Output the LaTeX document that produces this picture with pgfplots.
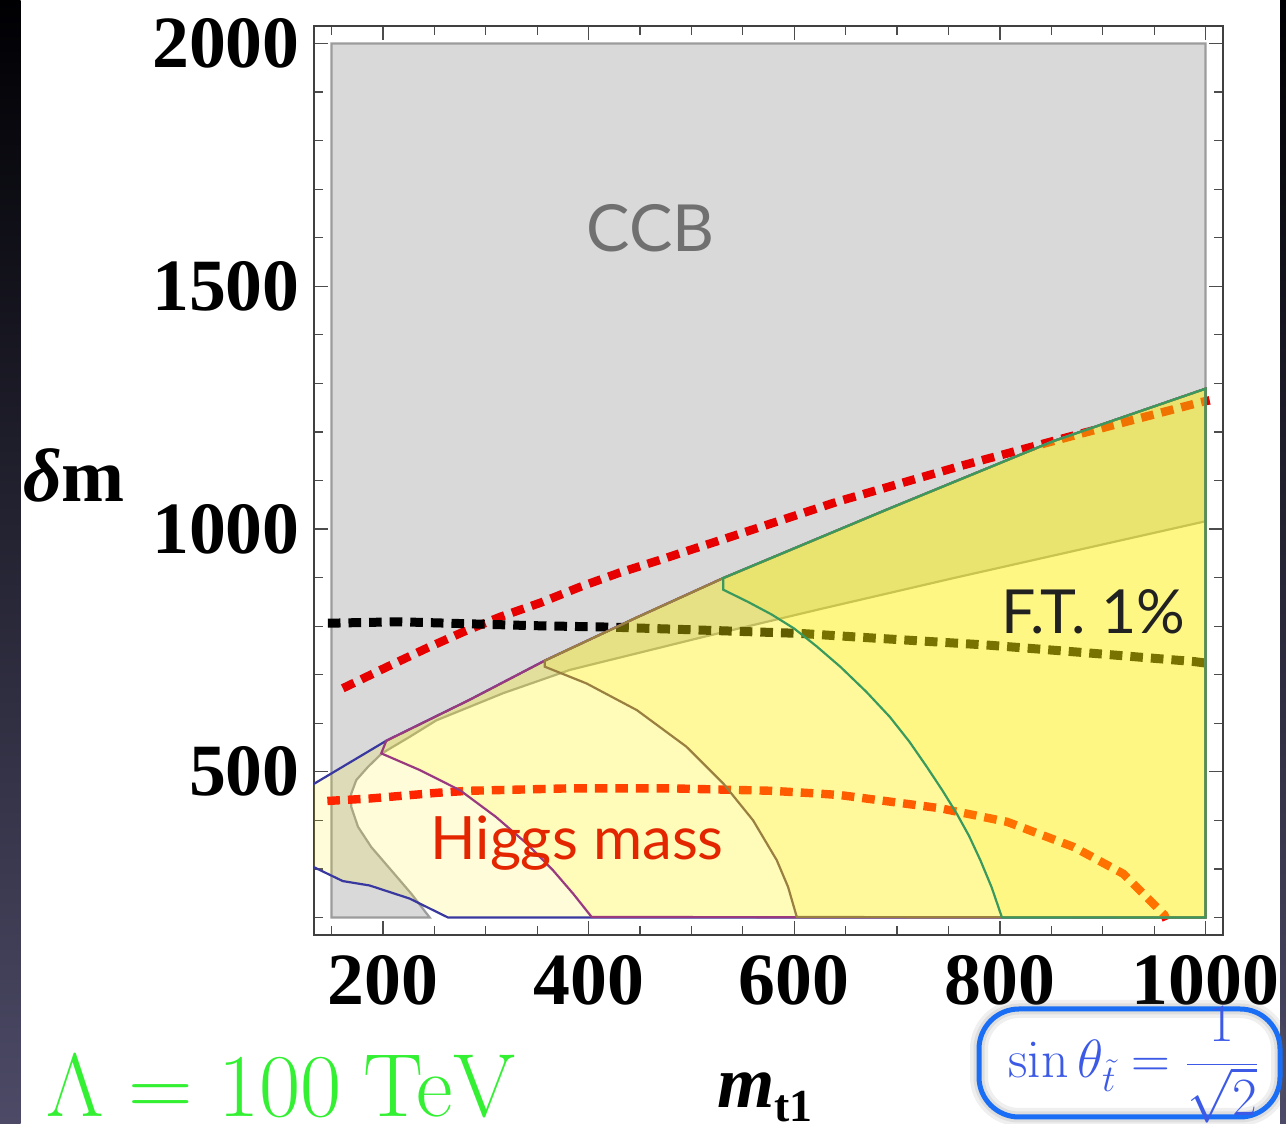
\documentclass[border=0pt]{standalone}
\usepackage{fix-cm}
\usepackage[no-math]{fontspec}
\usepackage{pgfplots}
\pgfplotsset{compat=1.18}
\setmainfont{Liberation Serif}
\newfontfamily\labelsans{Lato}

\definecolor{ccbgray}{HTML}{D9D9D9}
\definecolor{ccbedge}{HTML}{9C9C9C}
\definecolor{regblue}{HTML}{3838A0}
\definecolor{regpurple}{HTML}{993A80}
\definecolor{regbrown}{HTML}{9A8040}
\definecolor{reggreen}{HTML}{3A9A5E}
\definecolor{dashred}{HTML}{E60000}
\definecolor{higgsred}{HTML}{E32600}
\definecolor{lambdagreen}{HTML}{33F033}
\definecolor{boxblue}{HTML}{1A6EF5}
\definecolor{sinblue}{HTML}{3C5AE6}
\definecolor{stripTop}{HTML}{000003}
\definecolor{stripMid}{HTML}{141330}
\definecolor{stripBot}{HTML}{4C4A66}

\begin{document}
\begin{tikzpicture}[x=0.5bp,y=0.5bp]
\useasboundingbox (0,0) rectangle (1286,1124);
\fill[white] (0,0) rectangle (1286,1124);
\shade[top color=stripTop, middle color=stripMid, bottom color=stripBot] (0,0) rectangle (20.7,1124);
\shade[top color=stripTop, middle color=stripMid, bottom color=stripBot] (1280,0) rectangle (1286,1124);

\begin{axis}[
  at={(157bp,94.5bp)}, anchor=south west,
  scale only axis, width=454.5bp, height=454.5bp,
  xmin=133, xmax=1017, ymin=164, ymax=2036,
  xtick={200,400,600,800,1000}, ytick={500,1000,1500,2000},
  minor xtick={150,250,300,350,450,500,550,650,700,750,850,900,950},
  minor ytick={200,300,400,600,700,800,900,1100,1200,1300,1400,1600,1700,1800,1900},
  tick align=inside, major tick length=7bp, minor tick length=4.5bp,
  axis line style={draw=black!75, line width=0.8bp},
  tick style={black!70, line width=0.6bp},
  ticklabel style={font=\fontsize{37}{37}\selectfont\bfseries, inner sep=0pt},
  /pgf/number format/assume math mode=true,
  /pgf/number format/1000 sep={},
  scaled ticks=false,
  xticklabel shift=10bp, yticklabel shift=7bp,
]
% charge/colour breaking region (grey), with the allowed pocket cut out
\addplot[fill=ccbgray, draw=ccbedge, line width=1.1bp] coordinates {
 (150,200) (245.5,200) (227.6,249) (208.2,297) (188.7,345) (175.7,387)
 (169.2,428) (169.2,455) (174.1,483) (185.4,510) (199,538) (226,572)
 (252,606) (317,662) (382,710) (447,744) (512,778) (625,835) (755,899)
 (1000,1016) (1000,2000) (150,2000)} -- cycle;

% dashed contours
\addplot[dashred, line width=4.25bp, dash pattern=on 6.3bp off 4bp] coordinates {
 (161,672) (204,716) (243,755) (278,788) (314,819) (353,848) (392,881)
 (430,910) (469,936) (486,948) (534,981) (643,1057) (762,1130) (878,1196)
 (995,1261) (1004,1265)};
\addplot[black, line width=4.5bp, dash pattern=on 6.3bp off 4bp] coordinates {
 (146.5,806) (216,809) (281,805) (346,801) (421,798) (508,792) (606,785)
 (658,778) (788,761) (885,745) (989,727) (1000,724)};
\addplot[red, line width=4.2bp, dash pattern=on 6.3bp off 4bp] coordinates {
 (146,440) (187,445) (254,457) (284,461) (305,462) (382,466) (479,466)
 (577,461) (625,455) (645,452) (742,425) (807,397) (872,345) (920,290)
 (946,235) (960,205) (962,195)};

% nested allowed regions
\addplot[fill=yellow, fill opacity=0.15, draw=regblue, line width=1.1bp] coordinates {
 (128,469) (203.3,564) (284,648) (357.4,729) (447,818) (531,899) (690,1040)
 (852,1181) (1000,1289) (1000,200) (263.3,200) (226,239) (200,257)
 (187,266) (161,275) (128.6,308)} -- cycle;
\addplot[fill=yellow, fill opacity=0.15, draw=regpurple, line width=1.1bp] coordinates {
 (198.4,538) (203.3,564) (284,648) (357.4,729) (447,818) (531,899) (690,1040)
 (852,1181) (1000,1289) (1000,200) (403,201) (385,249) (365.5,297)
 (340,352) (310,407) (275,462) (236,503.5)} -- cycle;
\addplot[fill=yellow, fill opacity=0.15, draw=regbrown, line width=1.1bp] coordinates {
 (357.4,716.5) (357.4,729) (447,818) (531,899) (690,1040) (852,1181)
 (1000,1289) (1000,200) (602.5,201) (594,263) (583,318) (560,400)
 (531,476) (495,552) (447,627) (398,682)} -- cycle;
\addplot[fill=yellow, fill opacity=0.15, draw=reggreen, line width=1.1bp] coordinates {
 (531,875) (531,899) (690,1040) (852,1181) (1000,1289) (1000,200)
 (802,200) (792,262) (781,318) (770,368) (758,414) (744,462) (729,510)
 (712,562) (693,613) (670,665) (645,716) (622,758) (600,795) (578,824)
 (555,850)} -- cycle;
\end{axis}

% labels inside the plot
\node[anchor=base, inner sep=0, text=black!56, font=\labelsans\fontsize{32.6}{32.6}\selectfont] at (650.8,872.3) {CCB};
\node[anchor=base east, inner sep=0, text=black!87, font=\labelsans\fontsize{30.5}{30.5}\selectfont] at (1186,490.7) {F.T. 1\%};
\node[anchor=base west, inner sep=0, text=higgsred, font=\labelsans\fontsize{30}{30}\selectfont] at (430,264) {Higgs mass};

% axis labels
\node[anchor=base west, inner sep=0, font=\fontsize{38}{38}\selectfont\bfseries] at (22.7,622.3) {\textit{δ}m};
\node[anchor=base west, inner sep=0, font=\fontsize{37}{37}\selectfont\bfseries] at (716.7,16.7) {\textit{m}\raisebox{-7bp}{\fontsize{23}{23}\selectfont t1}};

% scale annotation
\node[anchor=base west, inner sep=0, text=lambdagreen, font=\fontsize{45}{45}\selectfont] at (46,7.3) {$\Lambda = 100\ \mathrm{TeV}$};

% mixing-angle box
\fill[white] (979,7) rectangle (1280,115);
\draw[black!60, opacity=0.10, line width=9bp, rounded corners=20bp] (979,7) rectangle (1280,115);
\draw[black!60, opacity=0.12, line width=5.5bp, rounded corners=20bp] (979,7) rectangle (1280,115);
\draw[boxblue, line width=2.5bp, rounded corners=20bp] (979,7) rectangle (1280,115);
\node[anchor=base west, inner sep=0, text=sinblue, font=\fontsize{27}{27}\selectfont] at (1008,46) {$\sin\theta_{\tilde t} = {\displaystyle\frac{1}{\sqrt{2}}}$};
\end{tikzpicture}
\end{document}
